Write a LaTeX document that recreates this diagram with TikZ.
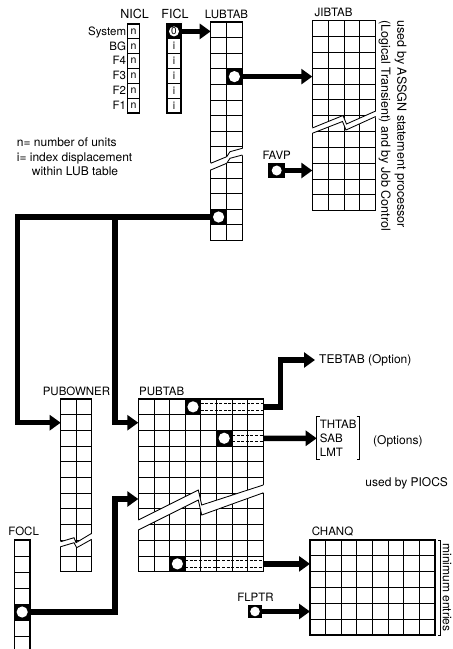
\documentclass[tikz,border=0pt]{standalone}
\usepackage{fontspec}
\setmainfont{TeX Gyre Heros}
\usetikzlibrary{arrows.meta,positioning}

% x0, y0, columns, rows, cell width, row height
\newcommand{\tablegrid}[6]{%
  \foreach \c in {0,...,#3}{\draw[gridline] ({#1+\c*#5},#2) -- ++(0,{#4*#6});}
  \foreach \r in {0,...,#4}{\draw[gridline] (#1,{#2+\r*#6}) -- ++({#3*#5},0);}
  \draw[tableframe] (#1,#2) rectangle ++({#3*#5},{#4*#6});
}

\begin{document}
\begin{tikzpicture}[x=1pt,y=-1pt,
  gridline/.style={line width=0.85pt},
  tableframe/.style={line width=1.3pt},
  breakline/.style={line width=0.85pt},
  pointer/.style={line width=5.5pt,-{Triangle[length=11pt,width=15pt]}},
  ptrcell/.style={fill=black,inner sep=0pt,outer sep=0pt,
    path picture={\fill[white] (path picture bounding box.center) circle (#1);}},
  ptrcell/.default=5.6pt,
  dashrule/.style={line width=0.7pt,dash pattern=on 3pt off 1.6pt},
  tablelabel/.style={anchor=base,inner sep=0pt,font=\fontsize{11.5}{13}\selectfont},
  rowlabel/.style={anchor=base east,inner sep=0pt,font=\fontsize{11.5}{13}\selectfont},
  celltext/.style={inner sep=0pt,font=\fontsize{10.5}{11}\selectfont},
  note/.style={inner sep=0pt,font=\fontsize{12}{14}\selectfont}]
  \useasboundingbox (0,0) rectangle (453,649);

  % NICL and FICL
  \tablegrid{127.7}{24}{1}{6}{11.6}{14.83}
  \tablegrid{167}{24}{1}{6}{14}{14.83}
  \node[tablelabel,font=\fontsize{12.5}{13}\selectfont] (nicl) at (134.5,18.3) {NICL};
  \node[tablelabel,font=\fontsize{12.5}{13}\selectfont] (ficl) at (175,18.3) {FICL};
  \foreach \name [count=\k from 0] in {System,BG,F4,F3,F2,F1}{
    \node[rowlabel] (row\k) at (126.3,{24+14.83*(\k+0.5)+3.9}) {\name};
    \node[celltext] (n\k) at (133.5,{24+14.83*(\k+0.5)}) {n};
  }
  \foreach \k in {1,...,5}
    \node[celltext] (i\k) at (174,{24+14.83*(\k+0.5)}) {i};
  \node[ptrcell=5pt,minimum width=14pt,minimum height=14.83pt,font=\fontsize{10}{10}\selectfont]
    (ficl0) at (174,31.4) {0};

  % legend
  \node[note,anchor=base west] (legn) at (16.7,146.7) {n= number of units};
  \node[note,anchor=base west] (legi) at (16.7,161) {i= index displacement};
  \node[note,anchor=base west] (legw) at (31.7,175.3) {within LUB table};

  % LUBTAB
  \tablegrid{210.7}{22}{2}{14}{15.8}{15.6}
  \node[tablelabel] (lubtab) at (226.5,18.3) {LUBTAB};
  \coordinate (lubtab-nw) at (210.7,22);
  \fill[white] (209.4,163.3) -- (226.7,156.7) -- (230,151.7) -- (243.6,148.3)
    -- (243.6,155) -- (230,158.3) -- (226.7,163.3) -- (209.4,170) -- cycle;
  \draw[breakline] (210.7,163.3) -- (226.7,156.7) -- (230,151.7) -- (242.3,148.3);
  \draw[breakline] (210.7,170) -- (226.7,163.3) -- (230,158.3) -- (242.3,155);
  \node[ptrcell,minimum width=15.8pt,minimum height=15.6pt] (lubA) at (234.4,76.6) {};
  \node[ptrcell,minimum width=15.8pt,minimum height=15.6pt] (lubB) at (218.6,217) {};

  % JIBTAB
  \tablegrid{312.3}{20.7}{4}{12}{15.85}{15.83}
  \node[tablelabel] (jibtab) at (333.5,16.7) {JIBTAB};
  \coordinate (jibtab-nw) at (312.3,20.7);
  \fill[white] (311,128) -- (343,115.5) -- (346.5,124) -- (377,110.5)
    -- (377,116.5) -- (346,130) -- (342.5,121.5) -- (311,133.5) -- cycle;
  \draw[breakline] (312.3,128) -- (343,115.5) -- (346.5,124) -- (375.7,111);
  \draw[breakline] (312.3,133.3) -- (342.5,121.5) -- (346,130) -- (375.7,116.5);
  \node[note,rotate=-90,anchor=north west,align=left,font=\fontsize{12.5}{16}\selectfont]
    (assgn) at (407,20.5) {used by ASSGN statement processor\\(Logical Transient) and by Job Control};

  % FAVP
  \node[tablelabel] (favplabel) at (276.7,159) {FAVP};
  \node[ptrcell=5pt,minimum width=16.7pt,minimum height=15pt] (favp) at (276.7,170.5) {};

  % PUBOWNER
  \tablegrid{60.7}{399}{2}{11}{15.5}{15.7}
  \node[tablelabel] (pubowner) at (76.5,395.7) {PUBOWNER};
  \coordinate (pubowner-in) at (60.7,422.7);
  \fill[white] (59.4,541.7) -- (74,537.7) -- (76,542.7) -- (93,533.3)
    -- (93,539.3) -- (76.7,547.7) -- (74,542.7) -- (59.4,546.7) -- cycle;
  \draw[breakline] (60.7,541.7) -- (74,537.7) -- (76,542.7) -- (91.7,533.3);
  \draw[breakline] (60.7,546.7) -- (74,542.7) -- (76.7,547.7) -- (91.7,539.3);

  % PUBTAB
  \tablegrid{138.3}{399}{8}{11}{15.625}{15.7}
  \node[tablelabel] (pubtab) at (161.7,395) {PUBTAB};
  \coordinate (pubtab-in1) at (138.3,422.7);
  \coordinate (pubtab-in2) at (138.3,499);
  \coordinate (pubtab-ne) at (263.3,399);
  \fill[white] (137,520.6) -- (198.3,490) -- (201.7,505) -- (264.6,484.6)
    -- (264.6,492.4) -- (201.7,515) -- (198.3,500) -- (137,530.6) -- cycle;
  \draw[breakline] (138.3,520) -- (198.3,490) -- (201.7,505) -- (263.3,485);
  \draw[breakline] (138.3,530) -- (198.3,500) -- (201.7,515) -- (263.3,492.8);
  \node[ptrcell,minimum width=15.6pt,minimum height=15.7pt] (pubA) at (193,406.85) {};
  \node[ptrcell,minimum width=15.6pt,minimum height=15.7pt] (pubB) at (224.2,438.25) {};
  \node[ptrcell,minimum width=15.6pt,minimum height=15.7pt] (pubC) at (177.4,563.85) {};
  \foreach \p in {pubA,pubB,pubC}{
    \draw[dashrule] ([yshift=-3.4pt]\p.east) -- ([yshift=-3.4pt]\p.east -| pubtab-ne);
    \draw[dashrule] ([yshift=3.4pt]\p.east) -- ([yshift=3.4pt]\p.east -| pubtab-ne);
  }

  % FOCL, open at the bottom
  \foreach \r in {0,...,6}{\draw[gridline] (14.3,{540+16*\r}) -- ++(15.7,0);}
  \draw[tableframe] (14.3,649) -- (14.3,540) -- (30,540) -- (30,649);
  \node[tablelabel] (focllabel) at (23.7,535) {FOCL};
  \node[ptrcell,minimum width=15.7pt,minimum height=16pt] (focl) at (22.15,612) {};

  % CHANQ
  \tablegrid{310}{540}{8}{6}{15.625}{15.83}
  \node[tablelabel] (chanq) at (332.5,535.7) {CHANQ};
  \coordinate (chanq-nw) at (310,540);
  \draw[gridline] (438.4,540) -- (440.7,540) -- (440.7,635) -- (438.4,635);
  \node[note,rotate=-90,anchor=south,inner sep=1.8pt] (minent) at (440.7,587.5) {minimum entries};

  % FLPTR
  \node[tablelabel] (flptrlabel) at (255.5,601.7) {FLPTR};
  \node[ptrcell=4.8pt,minimum width=13.4pt,minimum height=13.3pt] (flptr) at (255,611.5) {};

  % targets on the right
  \node[note,anchor=west,inner sep=4pt] (tebtab) at (315,360) {TEBTAB (Option)};
  \node[note,anchor=west,align=left,inner sep=3pt,font=\fontsize{11.5}{14}\selectfont]
    (options) at (316.7,438.3) {THTAB\\SAB\\LMT};
  \draw[gridline] ([xshift=3pt]options.north west) -- (options.north west)
    -- (options.south west) -- ++(3pt,0);
  \draw[gridline] ([xshift=-3pt]options.north east) -- (options.north east)
    -- (options.south east) -- ++(-3pt,0);
  \node[note,anchor=west] (optnote) at (373,441) {(Options)};
  \node[note] (piocs) at (406.7,483) {used by PIOCS};

  % pointers
  \draw[pointer] (ficl0.east) -- (ficl0 -| lubtab-nw);
  \draw[pointer] (lubA.east) -- (lubA -| jibtab-nw);
  \draw[pointer] (favp.east) -- (favp -| jibtab-nw);
  \coordinate (leftrail) at (17.5,217);
  \coordinate (midrail) at (115,217);
  \coordinate (lowrail) at (115,499);
  \draw[pointer] (lubB.west) -- (leftrail) |- (pubowner-in);
  \draw[pointer] (midrail) |- (pubtab-in1);
  \draw[pointer] (focl.east) -| (lowrail) -- (pubtab-in2);
  \draw[pointer] (pubA.east -| pubtab-ne) -- (280.7,406.85) |- (tebtab.west);
  \draw[pointer] (pubB.east -| pubtab-ne) -- (options.west);
  \draw[pointer] (pubC.east -| pubtab-ne) -- (pubC -| chanq-nw);
  \draw[pointer] (flptr.east) -- (flptr -| chanq-nw);
\end{tikzpicture}
\end{document}
